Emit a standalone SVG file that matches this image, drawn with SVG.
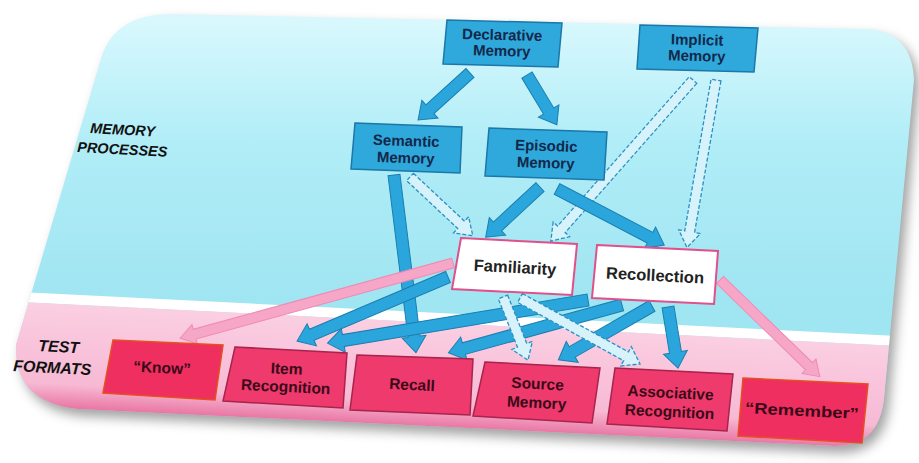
<svg xmlns="http://www.w3.org/2000/svg" width="919" height="463" viewBox="0 0 919 463">
<defs>
<style>
.bb{fill:#2fa8dc;stroke:#1b78a8;stroke-width:1.5}
.wb{fill:#ffffff;stroke:#e0508a;stroke-width:2}
.rb{fill:#ee3a6c;stroke:#a8244c;stroke-width:1.5}
.ob{fill:#ef2f5f;stroke:#e4501e;stroke-width:1.5}
text{font-family:"Liberation Sans",Arial,sans-serif;text-anchor:middle;font-weight:bold}
.tb{fill:#13284a;font-size:15px}
.tw{fill:#222;font-size:16.5px}
.tr{fill:#3a0a18;font-size:15.5px}
.lab{fill:#111;font-style:italic;text-anchor:start}
.blk{fill:#2ba6dc;stroke:#1a7fb0;stroke-width:1}
.dsh{fill:#d6f3fb;stroke:#2a90c4;stroke-width:1.3;stroke-dasharray:4 2}
.pnk{fill:#f6a6c6;stroke:#f08ab2;stroke-width:1}
</style>
<clipPath id="slide"><path d="M172,14 L868,29 Q912,32 914,80 L884,398 Q879,446 835,446 L78,409 Q14,402 16,345 L100,62 Q112,14 172,14 Z"/></clipPath>
<linearGradient id="gb" gradientUnits="userSpaceOnUse" x1="0" y1="20" x2="0" y2="300"><stop offset="0" stop-color="#d8f8fd"/><stop offset="0.45" stop-color="#b0edf7"/><stop offset="1" stop-color="#a0e5f2"/></linearGradient>
<linearGradient id="gp" gradientUnits="userSpaceOnUse" x1="460" y1="320" x2="454" y2="440"><stop offset="0" stop-color="#fbd0e3"/><stop offset="0.7" stop-color="#f7b9d4"/><stop offset="1" stop-color="#e2548a"/></linearGradient>
<filter id="sh" x="-10%" y="-10%" width="120%" height="130%"><feGaussianBlur stdDeviation="6"/></filter>
</defs>
<g id="background">
<path d="M172,14 L868,29 Q912,32 914,80 L884,398 Q879,446 835,446 L78,409 Q14,402 16,345 L100,62 Q112,14 172,14 Z" fill="#555" opacity="0.55" filter="url(#sh)" transform="translate(5,7)"/>
<g clip-path="url(#slide)">
<rect x="0" y="0" width="919" height="463" fill="url(#gb)"/>
<polygon points="0,291 919,337 919,347 0,301" fill="#ffffff"/>
<polygon points="0,301 919,347 919,463 0,463" fill="url(#gp)"/>
</g>
<text class="lab" x="90" y="133" font-size="14.5" transform="rotate(3 90 133)">MEMORY</text>
<text class="lab" x="77" y="152" font-size="14.5" transform="rotate(3 77 152)">PROCESSES</text>
<text class="lab" x="38" y="351" font-size="16" transform="rotate(3 38 351)">TEST</text>
<text class="lab" x="13" y="371" font-size="16" transform="rotate(3 13 371)">FORMATS</text>
</g>
<g id="connectors">
<path class="blk" transform="translate(470 73) rotate(137.9)" d="M0,-6 L54,-6 L54,-12 L70,0 L54,12 L54,6 L0,6Z"/>
<path class="blk" transform="translate(527 75) rotate(59)" d="M0,-6 L42,-6 L42,-12 L58,0 L42,12 L42,6 L0,6Z"/>
<path class="dsh" transform="translate(693 80) rotate(131.4)" d="M0,-5 L199,-5 L199,-11 L215,0 L199,11 L199,5 L0,5Z"/>
<path class="dsh" transform="translate(716 80) rotate(99.85)" d="M0,-5 L154,-5 L154,-11 L170,0 L154,11 L154,5 L0,5Z"/>
<path class="blk" transform="translate(394 175) rotate(82.95)" d="M0,-6 L163,-6 L163,-12 L179,0 L163,12 L163,6 L0,6Z"/>
<path class="dsh" transform="translate(410 177) rotate(43.1)" d="M0,-5 L70,-5 L70,-11 L86,0 L70,11 L70,5 L0,5Z"/>
<path class="blk" transform="translate(540 187) rotate(137.2)" d="M0,-6 L58,-6 L58,-12 L74,0 L58,12 L58,6 L0,6Z"/>
<path class="blk" transform="translate(557 189) rotate(27.6)" d="M0,-6 L105,-6 L105,-12 L121,0 L105,12 L105,6 L0,6Z"/>
<path class="pnk" transform="translate(453 263) rotate(164.6)" d="M0,-5 L268,-5 L268,-10 L283,0 L268,10 L268,5 L0,5Z"/>
<path class="blk" transform="translate(448 277) rotate(157)" d="M0,-6 L148,-6 L148,-12 L164,0 L148,12 L148,6 L0,6Z"/>
<path class="blk" transform="translate(588 300) rotate(170.6)" d="M0,-6 L248,-6 L248,-12 L264,0 L248,12 L248,6 L0,6Z"/>
<path class="blk" transform="translate(622 305) rotate(164.6)" d="M0,-6 L164,-6 L164,-12 L180,0 L164,12 L164,6 L0,6Z"/>
<path class="blk" transform="translate(652 306) rotate(150.1)" d="M0,-6 L92,-6 L92,-12 L108,0 L92,12 L92,6 L0,6Z"/>
<path class="blk" transform="translate(668 307) rotate(80.7)" d="M0,-6 L46,-6 L46,-12 L62,0 L46,12 L46,6 L0,6Z"/>
<path class="dsh" transform="translate(503 297) rotate(68.4)" d="M0,-5 L52,-5 L52,-11 L68,0 L52,11 L52,5 L0,5Z"/>
<path class="dsh" transform="translate(520 298) rotate(28.8)" d="M0,-5 L121,-5 L121,-11 L137,0 L121,11 L121,5 L0,5Z"/>
<path class="pnk" transform="translate(720 280) rotate(44.1)" d="M0,-5 L124,-5 L124,-10 L139,0 L124,10 L124,5 L0,5Z"/>
</g>
<g id="declarative"><polygon class="bb" points="447,20 562,23 558,67 443,64"/><g transform="rotate(1.5 502 45)"><text class="tb" x="502" y="40">Declarative</text><text class="tb" x="502" y="56">Memory</text></g></g>
<g id="implicit"><polygon class="bb" points="640,25 758,28 754,72 637,69"/><g transform="rotate(1.5 697 50)"><text class="tb" x="697" y="45">Implicit</text><text class="tb" x="697" y="61">Memory</text></g></g>
<g id="semantic"><polygon class="bb" points="355,123 462,127 460,173 351,169"/><g transform="rotate(2 406 150)"><text class="tb" x="406" y="146">Semantic</text><text class="tb" x="406" y="163">Memory</text></g></g>
<g id="episodic"><polygon class="bb" points="489,128 607,132 604,180 485,176"/><g transform="rotate(2 546 155)"><text class="tb" x="546" y="151">Episodic</text><text class="tb" x="546" y="168">Memory</text></g></g>
<g id="familiarity"><polygon class="wb" points="461,238 577,244 572,295 452,289"/><text class="tw" x="515" y="273" transform="rotate(3 515 268)">Familiarity</text></g>
<g id="recollection"><polygon class="wb" points="597,245 718,251 714,304 592,298"/><text class="tw" x="655" y="281" transform="rotate(3 655 276)">Recollection</text></g>
<g id="know"><polygon class="ob" points="113,340 223,345 215,400 103,393"/><text class="tr" x="162" y="373" transform="rotate(3 162 368)">“Know”</text></g>
<g id="item-recognition"><polygon class="rb" points="235,347 347,353 343,408 223,401"/><g transform="rotate(3 286 380)"><text class="tr" x="286" y="374">Item</text><text class="tr" x="286" y="392">Recognition</text></g></g>
<g id="recall"><polygon class="rb" points="357,355 473,359 470,415 350,410"/><text class="tr" x="412" y="390" transform="rotate(3 412 385)">Recall</text></g>
<g id="source-memory"><polygon class="rb" points="485,362 600,368 592,423 473,416"/><g transform="rotate(3 537 395)"><text class="tr" x="537" y="389">Source</text><text class="tr" x="537" y="408">Memory</text></g></g>
<g id="associative-recognition"><polygon class="rb" points="615,368 733,374 727,431 607,424"/><g transform="rotate(3 670 403)"><text class="tr" x="670" y="398">Associative</text><text class="tr" x="670" y="417">Recognition</text></g></g>
<g id="remember"><polygon class="ob" points="743,378 868,384 862,443 738,436"/><text class="tr" x="802" y="416" font-size="18.5" textLength="114" lengthAdjust="spacingAndGlyphs" transform="rotate(3 802 410)">“Remember”</text></g>
</svg>
